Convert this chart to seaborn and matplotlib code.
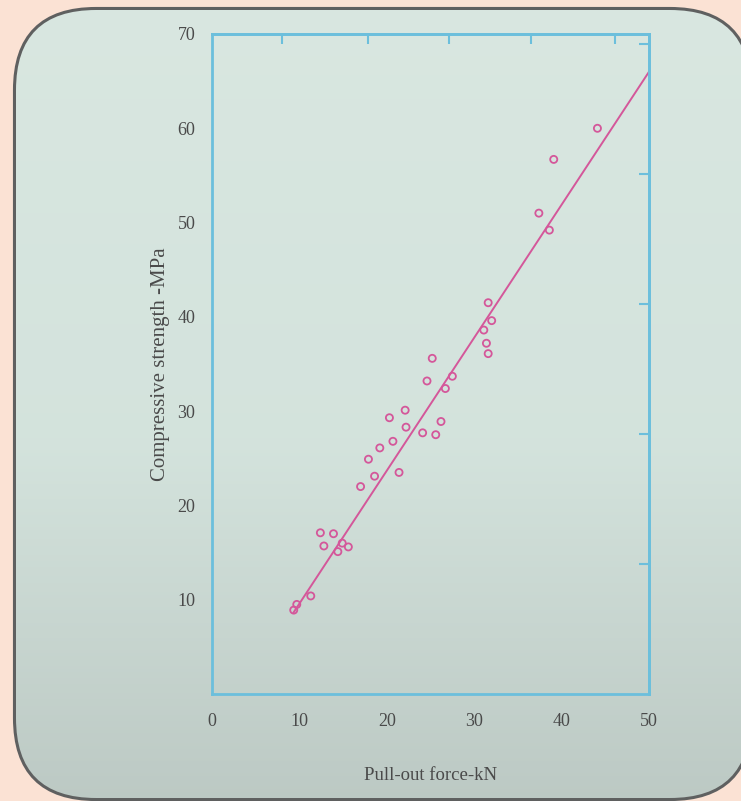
import numpy as np
import pandas as pd
import matplotlib
matplotlib.use("Agg")
import matplotlib.pyplot as plt
from matplotlib.patches import FancyBboxPatch
import seaborn as sns

# pull-out force (kN) vs compressive strength (MPa)
pull_out_kN = [9.35, 9.7, 11.3, 12.4, 12.8, 13.9, 14.4, 14.9, 15.6, 17.0,
               17.9, 18.6, 19.2, 20.3, 20.7, 21.4, 22.1, 22.2, 24.1, 24.6,
               25.2, 25.6, 26.2, 26.7, 27.5, 31.1, 31.4, 31.6, 31.6, 32.0,
               37.4, 38.6, 39.1, 44.1]
strength_MPa = [8.9, 9.5, 10.4, 17.1, 15.7, 17.0, 15.1, 16.0, 15.6, 22.0,
                24.9, 23.1, 26.1, 29.3, 26.8, 23.5, 30.1, 28.3, 27.7, 33.2,
                35.6, 27.5, 28.9, 32.4, 33.7, 38.6, 37.2, 41.5, 36.1, 39.6,
                51.0, 49.2, 56.7, 60.0]

# fitted line end points
fit_x = [9.3, 50.5]
fit_y = [8.6, 66.7]

x_ticks = [0, 10, 20, 30, 40, 50]
y_ticks = [10, 20, 30, 40, 50, 60, 70]
top_ticks = [8.0, 17.8, 27.1, 36.5, 46.1]          # secondary scale, unlabeled
right_ticks_psi = [2000, 4000, 6000, 8000, 10000]  # secondary scale, unlabeled

pink = "#d4579a"
blue = "#6cbfdc"
text_col = "#4a4a4a"

sns.set_theme(style="white")
plt.rcParams["font.family"] = ["Liberation Serif", "DejaVu Serif"]

W, H = 741, 801
fig = plt.figure(figsize=(W / 100, H / 100), dpi=100)
fig.patch.set_facecolor("#fbe2d4")

# slide background: rounded panel with soft vertical gradient
# (pixel coords, y measured from the bottom)
bg = fig.add_axes([0, 0, 1, 1])
bg.axis("off")
# filled frame (filled paths are not clipped badly at the canvas edge);
# the gradient covers its inside, leaving the outer half of the edge line
frame = FancyBboxPatch((16, 3), 750 - 16, 791 - 3,
                       boxstyle="round,pad=0,rounding_size=80",
                       facecolor="#c9d4cf", edgecolor="#5f6060", lw=4.4, zorder=0)
frame.set_clip_on(False)
bg.add_patch(frame)
grad = np.linspace(0, 1, 256)
cols = np.array([[0.85, 0.905, 0.88], [0.83, 0.89, 0.865], [0.74, 0.79, 0.77]])
stops = np.array([0.0, 0.55, 1.0])
img = np.stack([np.interp(grad, stops, cols[:, k]) for k in range(3)], axis=-1)
img = img[:, None, :].repeat(2, axis=1)
im = bg.imshow(img, extent=[16, 750, 3, 791], origin="upper", aspect="auto", zorder=1)
im.set_clip_path(frame)
bg.set_xlim(0, W)
bg.set_ylim(0, H)

# main chart
ax = fig.add_axes([212 / W, 1 - 694 / H, 437 / W, 660 / H])
ax.set_facecolor("none")

df = pd.DataFrame({"force": pull_out_kN, "strength": strength_MPa})
sns.lineplot(x=fit_x, y=fit_y, color=pink, lw=1.4, ax=ax, zorder=2)
sns.scatterplot(data=df, x="force", y="strength", marker="o", s=26,
                facecolors="none", edgecolor=pink, linewidth=1.3, ax=ax, zorder=3)

ax.set_xlim(0, 50)
ax.set_ylim(0, 70)
ax.set_xticks(x_ticks)
ax.set_yticks(y_ticks)
ax.set_xticklabels([str(v) for v in x_ticks])
ax.set_yticklabels([str(v) for v in y_ticks])
ax.tick_params(axis="x", direction="in", length=7, width=1.5, color=blue,
               pad=14, labelsize=13, labelcolor=text_col)
ax.tick_params(axis="y", direction="in", length=7, width=1.5, color=blue,
               pad=12, labelsize=13, labelcolor=text_col)
for sp in ax.spines.values():
    sp.set_visible(True)
    sp.set_color(blue)
    sp.set_linewidth(2)

secx = ax.secondary_xaxis("top")
secx.set_xticks(top_ticks)
secx.tick_params(direction="in", length=7, width=1.5, color=blue, labeltop=False)
secx.spines["top"].set_color(blue)
secx.spines["top"].set_linewidth(2)

secy = ax.secondary_yaxis("right")
secy.set_yticks([p * 0.006895 for p in right_ticks_psi])
secy.tick_params(direction="in", length=7, width=1.5, color=blue, labelright=False)
secy.spines["right"].set_color(blue)
secy.spines["right"].set_linewidth(2)

ax.set_xlabel("Pull-out force-kN", fontsize=13.5, color=text_col, labelpad=26)
ax.set_ylabel("Compressive strength -MPa", fontsize=15, color=text_col, labelpad=5)

fig.savefig("out.png", dpi=100, facecolor=fig.get_facecolor())
